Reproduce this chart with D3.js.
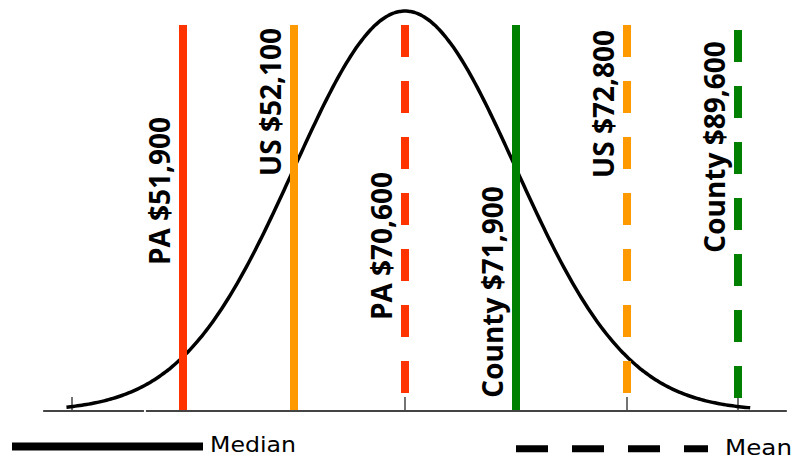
<!DOCTYPE html>
<html>
<head>
<meta charset="utf-8">
<script src="https://cdn.jsdelivr.net/npm/d3@7"></script>
<style>
  html, body { margin: 0; padding: 0; background: #fff; }
  svg { display: block; }
</style>
</head>
<body>
<svg id="chart"></svg>
<script>
// markers, ordered left to right along the curve
var labels = ["PA $51,900", "US $52,100", "PA $70,600", "County $71,900", "US $72,800", "County $89,600"];
var values = [51900, 52100, 70600, 71900, 72800, 89600];
var kinds  = ["median", "median", "mean", "median", "mean", "mean"];
var places = ["PA", "US", "PA", "County", "US", "County"];
var sigmaTicks = [-3, -2, -1, 0, 1, 2, 3];
var legendItems = ["Median", "Mean"];

// layout only (label centre along each line)
var labelMid = [191, 102, 246, 292, 104, 147];

var width = 803, height = 459,
    baseY = 411;

var colors = { PA: "#ff3300", US: "#ff9900", County: "#008000" };

var svg = d3.select("#chart")
    .attr("width", width)
    .attr("height", height)
    .attr("viewBox", [0, 0, width, height].join(" "));

// x in standard deviations, y as density relative to the peak
var x = d3.scaleLinear().domain([-3, 3]).range([72, 738]),
    y = d3.scaleLinear().domain([0, 1]).range([baseY, 11]);

// markers sit on the sigma ticks, in order of value
var slot = d3.scalePoint().domain(labels).range([x(-2), x(3)]);

// axis baseline (with the small break seen in the source)
var axisParts = [[-3.26, -2.352], [-2.334, 3.44]];
svg.append("g")
    .selectAll("line")
    .data(axisParts)
    .enter()
    .append("line")
    .attr("x1", (d) => x(d[0]))
    .attr("x2", (d) => x(d[1]))
    .attr("y1", baseY)
    .attr("y2", baseY)
    .attr("stroke", "#444")
    .attr("stroke-width", 2);

svg.append("g")
    .selectAll("line")
    .data(sigmaTicks)
    .enter()
    .append("line")
    .attr("x1", (d) => x(d))
    .attr("x2", (d) => x(d))
    .attr("y1", baseY - 14)
    .attr("y2", baseY)
    .attr("stroke", "#444")
    .attr("stroke-width", 1.5);

// bell curve
var curvePts = d3.range(-3.05, 3.12, 0.02).map((z) => [z, Math.exp(-z * z / 2)]);
var line = d3.line()
    .curve(d3.curveBasis)
    .x((d) => x(d[0]))
    .y((d) => y(d[1]));

svg.append("path")
    .datum(curvePts)
    .attr("d", line)
    .attr("fill", "none")
    .attr("stroke", "#000")
    .attr("stroke-width", 3.5);

// marker lines
var markers = labels.map((l, i) => ({ label: l, value: values[i], kind: kinds[i], place: places[i], mid: labelMid[i] }));

svg.append("g")
    .selectAll("line")
    .data(markers)
    .enter()
    .append("line")
    .attr("x1", (d) => slot(d.label))
    .attr("x2", (d) => slot(d.label))
    .attr("y1", (d) => (d.place == "County" && d.kind == "mean") ? 30 : 25)
    .attr("y2", (d) => d.kind == "mean" ? ((d.place == "County") ? 398 : 393) : 410)
    .attr("stroke", (d) => colors[d.place])
    .attr("stroke-width", 8)
    .attr("stroke-dasharray", (d) => d.kind == "mean" ? "32,24" : null);

// rotated labels
svg.append("g")
    .selectAll("text")
    .data(markers)
    .enter()
    .append("text")
    .attr("transform", (d) => `translate(${slot(d.label) - 13.5}, ${d.mid}) rotate(-90)`)
    .attr("text-anchor", "middle")
    .attr("font-family", "'Open Sans', sans-serif")
    .attr("font-weight", "bold")
    .attr("font-size", 28)
    .attr("fill", "#000")
    .text((d) => d.label);

// legend
var legend = svg.append("g");
legend.append("line")
    .attr("x1", 12).attr("x2", 203)
    .attr("y1", 446.5).attr("y2", 446.5)
    .attr("stroke", "#000")
    .attr("stroke-width", 8);
legend.append("line")
    .attr("x1", 516).attr("x2", 708)
    .attr("y1", 448.7).attr("y2", 448.7)
    .attr("stroke", "#000")
    .attr("stroke-width", 7)
    .attr("stroke-dasharray", "32,24");

legend.selectAll("text")
    .data(legendItems)
    .enter()
    .append("text")
    .attr("x", (d, i) => i == 0 ? 210 : 725)
    .attr("y", (d, i) => i == 0 ? 452 : 454.5)
    .attr("font-family", "'DejaVu Sans', sans-serif")
    .attr("font-size", 22)
    .attr("textLength", (d, i) => i == 0 ? 86 : 67)
    .attr("lengthAdjust", "spacingAndGlyphs")
    .attr("fill", "#000")
    .text((d) => d);
</script>
</body>
</html>
